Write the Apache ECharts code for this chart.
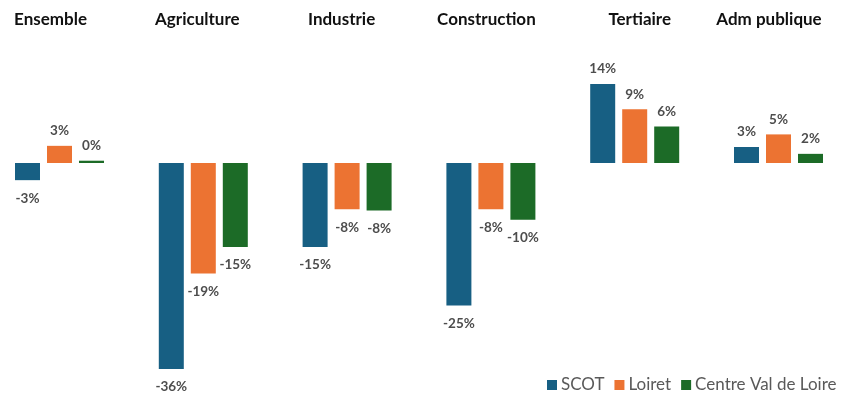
<!DOCTYPE html>
<html>
<head>
<meta charset="utf-8">
<style>html,body{margin:0;padding:0;background:#fff}#c{width:841px;height:395px}</style>
<script src="https://cdn.jsdelivr.net/npm/echarts@6/dist/echarts.min.js"></script>
</head>
<body>
<div id="c"></div>
<script>
var categories = ['Ensemble', 'Agriculture', 'Industrie', 'Construction', 'Tertiaire', 'Adm publique'];
var seriesNames = ['SCOT', 'Loiret', 'Centre Val de Loire'];
var scot = [-3.0, -36.0, -14.7, -24.9, 13.8, 2.8];
var loiret = [3.0, -19.3, -8.1, -8.1, 9.4, 5.0];
var centre = [0.4, -14.7, -8.3, -9.9, 6.4, 1.6];
var colors = ['#175f83', '#ec7332', '#1c6b27'];
var titleShift = [-9, -6, -5.5, -4.5, 5, -9.5];

var chart = echarts.init(document.getElementById('c'));
var FONT = 'Lato';

function mk(name, vals, color) {
  return {
    name: name,
    type: 'bar',
    barWidth: 25,
    barGap: '28%',
    itemStyle: { color: color },
    data: vals.map(function (v) {
      return {
        value: v,
        label: { position: v >= 0 ? 'top' : 'bottom', distance: v >= 0 ? 8 : 11 }
      };
    }),
    label: {
      show: true,
      fontFamily: FONT,
      fontWeight: 'bold',
      fontSize: 13.5,
      color: '#4d4d4d',
      formatter: function (p) { return Math.round(p.value) + '%'; }
    }
  };
}

var rich = {};
titleShift.forEach(function (d, i) {
  rich['t' + i] = {
    fontFamily: FONT, fontWeight: 'bold', fontSize: 17, color: '#111',
    padding: d < 0 ? [0, -2 * d, 0, 0] : [0, 0, 0, 2 * d]
  };
});

chart.setOption({
  animation: false,
  grid: { left: -12.4, width: 862.8, top: 48.6, height: 343.2, containLabel: false, outerBoundsMode: 'none' },
  legend: {
    data: seriesNames,
    left: 547, top: 376, padding: 0,
    itemWidth: 10, itemHeight: 10, itemGap: 10,
    icon: 'rect',
    textStyle: { fontFamily: FONT, fontSize: 17, color: '#595959', lineHeight: 18, padding: [0, 0, 0, -1] }
  },
  xAxis: [
    { type: 'category', data: categories, axisLine: { show: false }, axisTick: { show: false }, axisLabel: { show: false } },
    {
      type: 'category', data: categories, position: 'top',
      axisLine: { show: false }, axisTick: { show: false },
      axisLabel: {
        show: true, margin: 29, verticalAlign: 'middle', interval: 0,
        formatter: function (v, i) { return '{t' + i + '|' + v + '}'; },
        rich: rich
      }
    }
  ],
  yAxis: { type: 'value', min: -40, max: 20, show: false, splitLine: { show: false } },
  series: [mk(seriesNames[0], scot, colors[0]), mk(seriesNames[1], loiret, colors[1]), mk(seriesNames[2], centre, colors[2])]
});
</script>
</body>
</html>
